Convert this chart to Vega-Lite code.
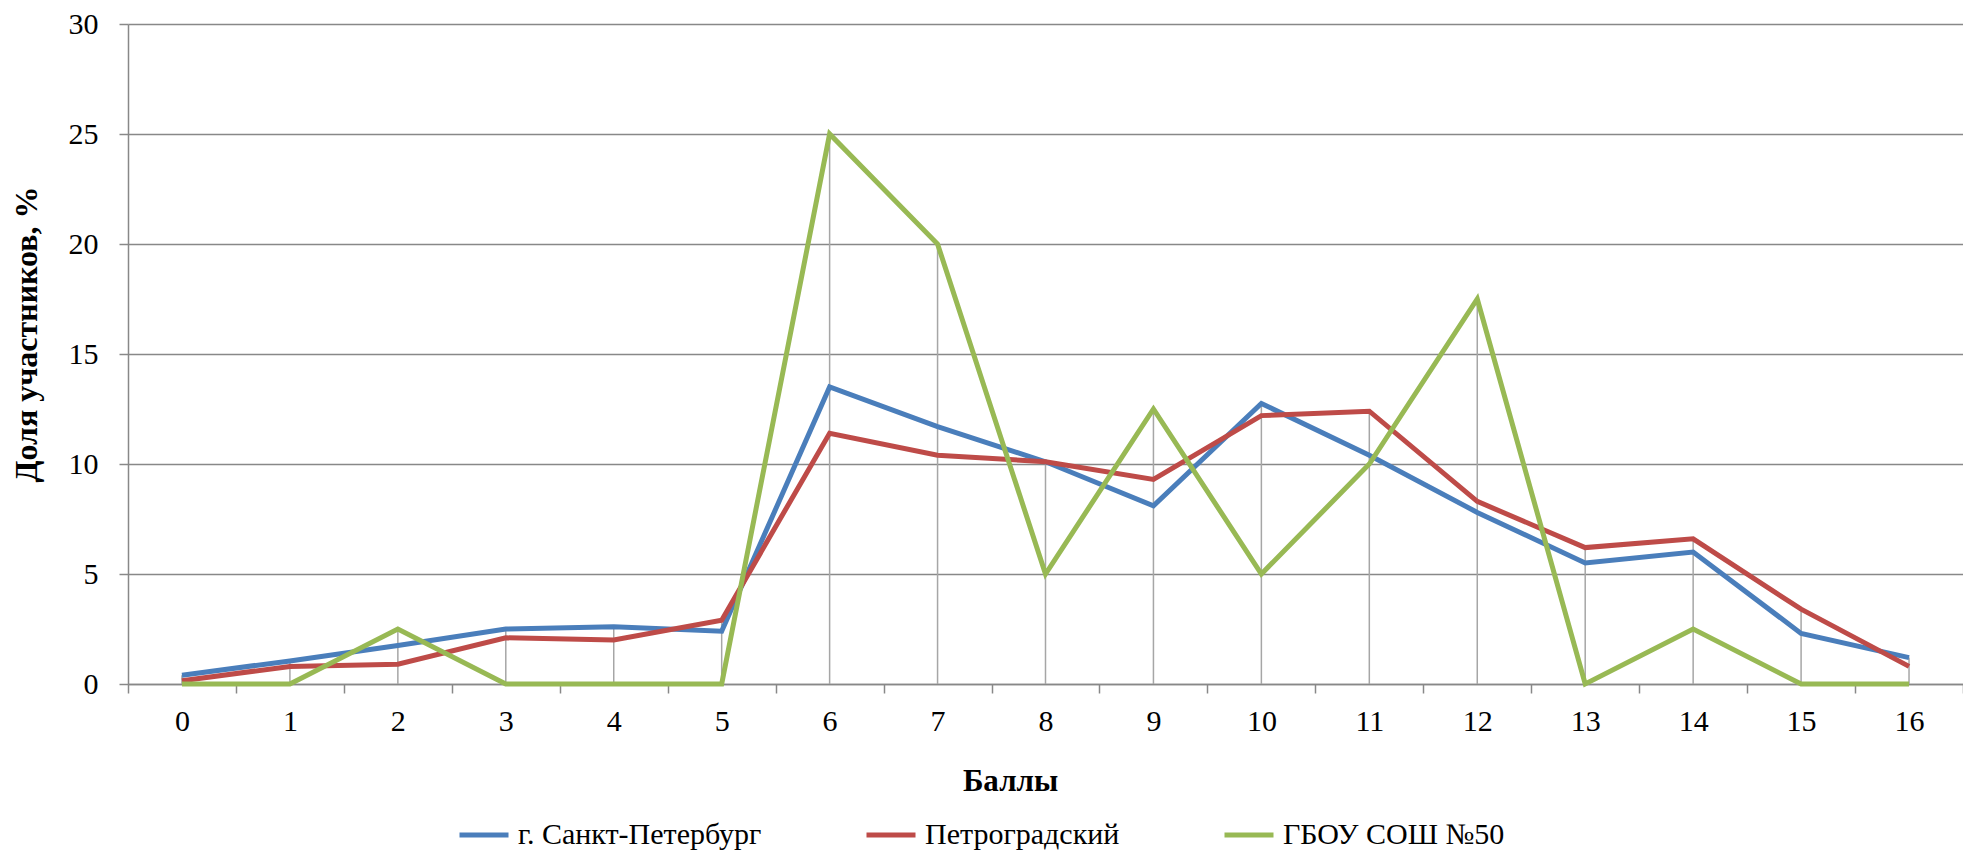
{
  "$schema": "https://vega.github.io/schema/vega-lite/v6.json",
  "width": 1835,
  "height": 660,
  "autosize": {"type": "none"},
  "padding": {"left": 128, "top": 24, "right": 0, "bottom": 170},
  "background": "white",
  "config": {"view": {"stroke": null}, "font": "Liberation Serif"},
  "data": {
    "values": [
      {"score": 0, "series": "г. Санкт-Петербург", "value": 0.4},
      {"score": 1, "series": "г. Санкт-Петербург", "value": 1.05},
      {"score": 2, "series": "г. Санкт-Петербург", "value": 1.75},
      {"score": 3, "series": "г. Санкт-Петербург", "value": 2.5},
      {"score": 4, "series": "г. Санкт-Петербург", "value": 2.6},
      {"score": 5, "series": "г. Санкт-Петербург", "value": 2.4},
      {"score": 6, "series": "г. Санкт-Петербург", "value": 13.5},
      {"score": 7, "series": "г. Санкт-Петербург", "value": 11.7},
      {"score": 8, "series": "г. Санкт-Петербург", "value": 10.1},
      {"score": 9, "series": "г. Санкт-Петербург", "value": 8.1},
      {"score": 10, "series": "г. Санкт-Петербург", "value": 12.75},
      {"score": 11, "series": "г. Санкт-Петербург", "value": 10.4},
      {"score": 12, "series": "г. Санкт-Петербург", "value": 7.8},
      {"score": 13, "series": "г. Санкт-Петербург", "value": 5.5},
      {"score": 14, "series": "г. Санкт-Петербург", "value": 6.0},
      {"score": 15, "series": "г. Санкт-Петербург", "value": 2.3},
      {"score": 16, "series": "г. Санкт-Петербург", "value": 1.2},
      {"score": 0, "series": "Петроградский", "value": 0.15},
      {"score": 1, "series": "Петроградский", "value": 0.8},
      {"score": 2, "series": "Петроградский", "value": 0.9},
      {"score": 3, "series": "Петроградский", "value": 2.1},
      {"score": 4, "series": "Петроградский", "value": 2.0},
      {"score": 5, "series": "Петроградский", "value": 2.9},
      {"score": 6, "series": "Петроградский", "value": 11.4},
      {"score": 7, "series": "Петроградский", "value": 10.4},
      {"score": 8, "series": "Петроградский", "value": 10.1},
      {"score": 9, "series": "Петроградский", "value": 9.3},
      {"score": 10, "series": "Петроградский", "value": 12.2},
      {"score": 11, "series": "Петроградский", "value": 12.4},
      {"score": 12, "series": "Петроградский", "value": 8.3},
      {"score": 13, "series": "Петроградский", "value": 6.2},
      {"score": 14, "series": "Петроградский", "value": 6.6},
      {"score": 15, "series": "Петроградский", "value": 3.4},
      {"score": 16, "series": "Петроградский", "value": 0.8},
      {"score": 0, "series": "ГБОУ СОШ №50", "value": 0},
      {"score": 1, "series": "ГБОУ СОШ №50", "value": 0},
      {"score": 2, "series": "ГБОУ СОШ №50", "value": 2.5},
      {"score": 3, "series": "ГБОУ СОШ №50", "value": 0},
      {"score": 4, "series": "ГБОУ СОШ №50", "value": 0},
      {"score": 5, "series": "ГБОУ СОШ №50", "value": 0},
      {"score": 6, "series": "ГБОУ СОШ №50", "value": 25},
      {"score": 7, "series": "ГБОУ СОШ №50", "value": 20},
      {"score": 8, "series": "ГБОУ СОШ №50", "value": 5},
      {"score": 9, "series": "ГБОУ СОШ №50", "value": 12.5},
      {"score": 10, "series": "ГБОУ СОШ №50", "value": 5},
      {"score": 11, "series": "ГБОУ СОШ №50", "value": 10},
      {"score": 12, "series": "ГБОУ СОШ №50", "value": 17.5},
      {"score": 13, "series": "ГБОУ СОШ №50", "value": 0},
      {"score": 14, "series": "ГБОУ СОШ №50", "value": 2.5},
      {"score": 15, "series": "ГБОУ СОШ №50", "value": 0},
      {"score": 16, "series": "ГБОУ СОШ №50", "value": 0}
    ]
  },
  "encoding": {
    "x": {
      "field": "score",
      "type": "ordinal",
      "scale": {"type": "band", "paddingInner": 0, "paddingOuter": 0},
      "axis": {
        "title": "Баллы",
        "titleFont": "Liberation Serif",
        "titleFontSize": 31,
        "titleFontWeight": "bold",
        "titleColor": "black",
        "titleX": 882,
        "titleY": 106,
        "titleAlign": "center",
        "titleBaseline": "alphabetic",
        "labelAngle": 0,
        "labelFont": "Liberation Serif",
        "labelFontSize": 30,
        "labelColor": "black",
        "labelPadding": 13,
        "tickSize": 9,
        "tickColor": "#888888",
        "tickWidth": 1.5,
        "tickBand": "extent",
        "domainColor": "#888888",
        "domainWidth": 1.5,
        "grid": false
      }
    },
    "y": {
      "field": "value",
      "type": "quantitative",
      "scale": {"domain": [0, 30], "nice": false},
      "axis": {
        "title": "Доля участников, %",
        "titleFont": "Liberation Serif",
        "titleFontSize": 32,
        "titleFontWeight": "bold",
        "titleColor": "black",
        "titleX": -92,
        "titleY": 310,
        "titleAngle": -90,
        "titleAlign": "center",
        "titleBaseline": "alphabetic",
        "values": [0, 5, 10, 15, 20, 25, 30],
        "labelFont": "Liberation Serif",
        "labelFontSize": 30,
        "labelColor": "black",
        "labelPadding": 21,
        "tickSize": 9,
        "tickColor": "#888888",
        "tickWidth": 1.5,
        "domainColor": "#888888",
        "domainWidth": 1.5,
        "grid": true,
        "gridColor": "#888888",
        "gridWidth": 1.5
      }
    }
  },
  "layer": [
    {
      "transform": [
        {"aggregate": [{"op": "max", "field": "value", "as": "value"}], "groupby": ["score"]}
      ],
      "mark": {"type": "rule", "color": "#a6a6a6", "strokeWidth": 1.5},
      "encoding": {"y2": {"datum": 0}}
    },
    {
      "mark": {"type": "line", "strokeWidth": 5},
      "encoding": {
        "color": {
          "field": "series",
          "type": "nominal",
          "scale": {
            "domain": ["г. Санкт-Петербург", "Петроградский", "ГБОУ СОШ №50"],
            "range": ["#4a7ebb", "#be4b48", "#98b954"]
          },
          "legend": {
            "orient": "none",
            "legendX": 329,
            "legendY": 784,
            "direction": "horizontal",
            "title": null,
            "symbolType": "stroke",
            "symbolSize": 2401,
            "symbolStrokeWidth": 5,
            "labelFont": "Liberation Serif",
            "labelFontSize": 30,
            "labelColor": "black",
            "labelOffset": 7,
            "labelLimit": 0,
            "columnPadding": 94
          }
        }
      }
    }
  ]
}
